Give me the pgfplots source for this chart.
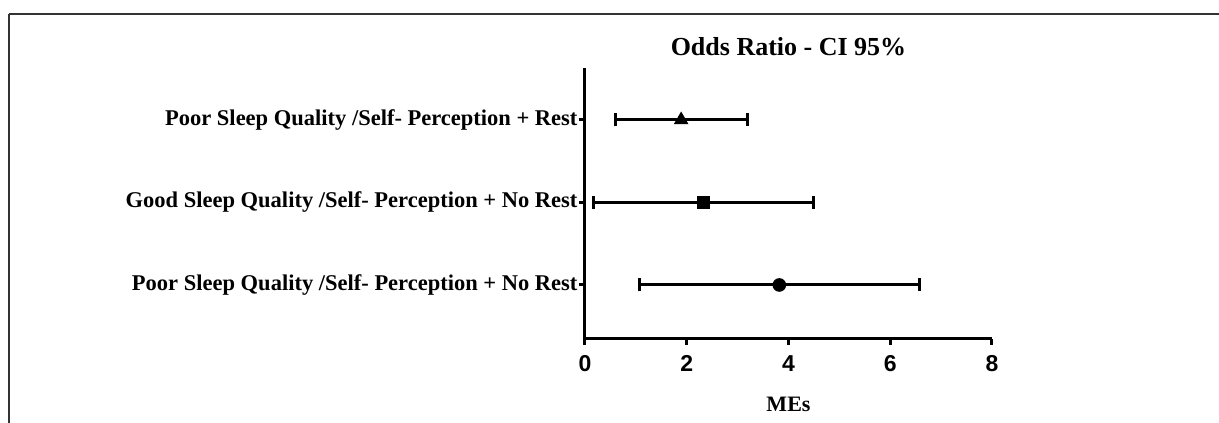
\documentclass[border=0pt]{standalone}
\usepackage{fontspec}
\setmainfont{Liberation Serif}
\setsansfont{Liberation Sans}
\usepackage{pgfplots}
\usepackage{pgfplotstable}
\pgfplotsset{compat=1.18}
\pgfplotstableread{
x y em ep
1.89 3 1.30 1.30
}\tri
\pgfplotstableread{
x y em ep
2.33 2 2.17 2.16
}\sq
\pgfplotstableread{
x y em ep
3.82 1 2.74 2.75
}\circ
\begin{document}
\begin{tikzpicture}[x=1pt,y=1pt]
\useasboundingbox (0,0) rectangle (1219,423);
\draw[line width=1.6pt, black!80] (9,409) -- (1218.5,409);
\draw[line width=1.6pt, black!80] (9,409) -- (9,0);
\begin{axis}[
  at={(585pt,84pt)}, anchor=south west,
  scale only axis, width=407pt, height=271pt,
  xmin=0, xmax=8, ymin=0.345, ymax=3.63,
  axis lines=left, axis line style={-, line width=3pt},
  clip=false,
  xtick={0,2,4,6,8}, xticklabels={0,2,4,6,8},
  ytick={1,2,3},
  yticklabels={Poor Sleep Quality /Self- Perception + No Rest,
               Good Sleep Quality /Self- Perception + No Rest,
               Poor Sleep Quality /Self- Perception + Rest},
  tick align=outside, major tick length=6pt,
  tick style={line width=3pt, black},
  xticklabel style={font=\sffamily\bfseries\fontsize{23}{23}\selectfont, yshift=-7pt},
  yticklabel style={font=\bfseries\fontsize{22.5}{22.5}\selectfont, xshift=2pt},
  title={Odds Ratio - CI 95\%},
  title style={font=\bfseries\fontsize{26}{26}\selectfont, at={(0.5,1)}, anchor=base, yshift=6pt},
  xlabel={MEs},
  every axis x label/.style={at={(axis description cs:0.5,0)}, anchor=base, yshift=-73pt,
    font=\bfseries\fontsize{22}{22}\selectfont},
]
\addplot[black, line width=3pt, mark=triangle*, mark size=7.5pt, mark options={line width=1pt},
  error bars/.cd, x dir=both, x explicit, error mark=|,
  error bar style={line width=3pt},
  error mark options={line width=3pt, mark size=6.5pt}]
  table[x=x, y=y, x error minus=em, x error plus=ep] {\tri};
\addplot[black, line width=3pt, mark=square*, mark size=6pt, mark options={line width=1pt},
  error bars/.cd, x dir=both, x explicit, error mark=|,
  error bar style={line width=3pt},
  error mark options={line width=3pt, mark size=6.5pt}]
  table[x=x, y=y, x error minus=em, x error plus=ep] {\sq};
\addplot[black, line width=3pt, mark=*, mark size=6.3pt, mark options={line width=1pt},
  error bars/.cd, x dir=both, x explicit, error mark=|,
  error bar style={line width=3pt},
  error mark options={line width=3pt, mark size=6.5pt}]
  table[x=x, y=y, x error minus=em, x error plus=ep] {\circ};
\end{axis}
\end{tikzpicture}
\end{document}
